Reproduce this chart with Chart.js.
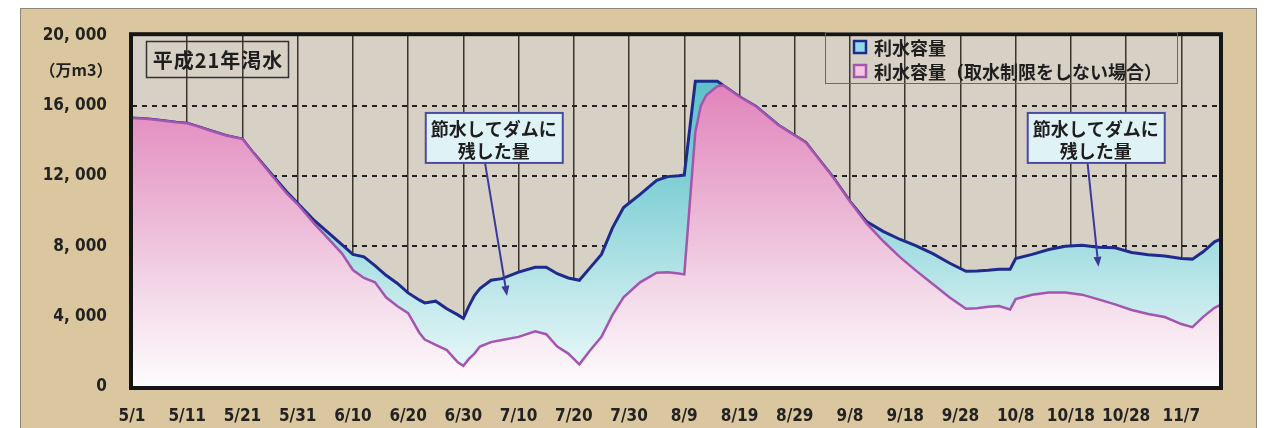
<!DOCTYPE html>
<html>
<head>
<meta charset="utf-8">
<script src="https://cdn.jsdelivr.net/npm/chart.js@4"></script>
<style>
  html, body { margin: 0; padding: 0; background: #fff; }
  #wrap { width: 1281px; height: 428px; }
</style>
</head>
<body>
<div id="wrap"><canvas id="myChart"></canvas></div>
<script>
// days counted from 5/1 (2009)
const days = [0, 3, 5, 8, 10, 12, 14, 17, 20, 22, 25, 28, 30, 33, 36, 38, 40, 42, 44, 46, 48, 50, 52, 53, 55, 57, 59, 60, 61, 62, 63, 65, 67, 70, 73, 75, 77, 79, 81, 83, 85, 87, 89, 92, 95, 97, 99, 100, 102, 103, 104, 106, 107, 110, 113, 117, 120, 122, 124, 127, 130, 133, 136, 139, 142, 145, 148, 151, 153, 155, 157, 159, 160, 163, 166, 169, 172, 175, 178, 181, 184, 187, 190, 192, 194, 196, 197];

// 利水容量 (万m3)
const storage = [15300, 15230, 15170, 15050, 14990, 14800, 14600, 14300, 14100, 13300, 12200, 11100, 10450, 9470, 8650, 8100, 7540, 7400, 6900, 6350, 5900, 5350, 4950, 4780, 4880, 4450, 4100, 3900, 4600, 5200, 5600, 6070, 6160, 6530, 6810, 6810, 6440, 6200, 6070, 6800, 7540, 9050, 10200, 10950, 11750, 11960, 12010, 12050, 17380, 17380, 17380, 17380, 17150, 16500, 15950, 14900, 14300, 13900, 13100, 11900, 10550, 9400, 8850, 8400, 8020, 7580, 7050, 6580, 6600, 6640, 6700, 6700, 7300, 7540, 7820, 8000, 8060, 7950, 7910, 7650, 7520, 7450, 7310, 7270, 7700, 8250, 8400];

// 利水容量（取水制限をしない場合）
const storageNoLimit = [15300, 15230, 15170, 15050, 14990, 14800, 14600, 14300, 14100, 13300, 12150, 11000, 10390, 9290, 8280, 7600, 6650, 6200, 5950, 5100, 4600, 4200, 3100, 2700, 2400, 2100, 1400, 1200, 1600, 1900, 2300, 2550, 2670, 2850, 3170, 3000, 2300, 1900, 1290, 2100, 2850, 4100, 5100, 5950, 6500, 6530, 6450, 6400, 14500, 16000, 16600, 17100, 17150, 16500, 15950, 14900, 14300, 13900, 13100, 11900, 10550, 9300, 8300, 7400, 6600, 5850, 5100, 4450, 4480, 4560, 4600, 4410, 5000, 5240, 5370, 5370, 5250, 4980, 4700, 4380, 4150, 3980, 3580, 3400, 4000, 4500, 4650];

const xStep = 10;       // tick label every 10 days
const yMax = 20000;
const yStep = 4000;

const numFont = "'Liberation Sans Narrow', 'DejaVu Sans Condensed', 'Noto Sans CJK JP', sans-serif";
const jpFont = "'Noto Sans CJK JP', sans-serif";

function dayLabel(v) {
  const d = new Date(2009, 4, 1 + v);
  return (d.getMonth() + 1) + '/' + d.getDate();
}

function yLabel(v) {
  if (v === 0) return '0';
  return Math.floor(v / 1000) + ', ' + String(v % 1000).padStart(3, '0');
}

// call-out boxes, placed in data units
const notes = [
  { lines: ['節水してダムに', '残した量'], day: 65.5, value: 14160, tailDay: 63.9, tailValue: 12780, tipDay: 67.9, tipValue: 5180 },
  { lines: ['節水してダムに', '残した量'], day: 174.5, value: 14160, tailDay: 173, tailValue: 12780, tipDay: 175, tipValue: 6830 }
];

function cyanFill(context) {
  const { ctx, chartArea } = context.chart;
  if (!chartArea) return null;
  const g = ctx.createLinearGradient(0, chartArea.top, 0, chartArea.bottom);
  g.addColorStop(0, '#4bbac3');
  g.addColorStop(0.45, '#86d2d7');
  g.addColorStop(0.75, '#c3e9ec');
  g.addColorStop(1, '#f0fafa');
  return g;
}

function pinkFill(context) {
  const { ctx, chartArea } = context.chart;
  if (!chartArea) return null;
  const g = ctx.createLinearGradient(0, chartArea.top, 0, chartArea.bottom);
  g.addColorStop(0, '#dc6fb0');
  g.addColorStop(0.2, '#e38cc0');
  g.addColorStop(0.5, '#ebb6d5');
  g.addColorStop(0.75, '#f4dcea');
  g.addColorStop(1, '#fdfcfd');
  return g;
}

const decor = {
  id: 'decor',
  beforeDraw(chart) {
    const { ctx, chartArea: a } = chart;
    ctx.save();
    ctx.fillStyle = '#ffffff';
    ctx.fillRect(0, 0, chart.width, chart.height);
    ctx.fillStyle = '#dac69f';
    ctx.fillRect(20, 8, 1237, chart.height);
    ctx.strokeStyle = '#8f8576';
    ctx.lineWidth = 1;
    ctx.strokeRect(20.5, 8.5, 1236, chart.height + 10);
    ctx.fillStyle = '#d7d0c4';
    ctx.fillRect(a.left, a.top, a.right - a.left, a.bottom - a.top);
    ctx.restore();
  },
  afterDraw(chart) {
    const { ctx, chartArea: a, scales } = chart;
    const x = scales.x, y = scales.y;
    ctx.save();

    // plot frame
    ctx.strokeStyle = '#151515';
    ctx.lineWidth = 4;
    ctx.strokeRect(a.left - 1, a.top - 1, a.right - a.left + 2, a.bottom - a.top + 2);

    // unit label
    ctx.fillStyle = '#222';
    ctx.font = "bold 16px " + jpFont;
    ctx.textAlign = 'center';
    ctx.textBaseline = 'middle';
    ctx.fillText('（万m3）', 76, y.getPixelForValue(18000));

    // title box
    ctx.strokeStyle = '#333';
    ctx.lineWidth = 1.5;
    ctx.strokeRect(146.5, 41.5, 142, 36);
    ctx.font = "bold 20px " + jpFont;
    ctx.letterSpacing = '1px';
    ctx.fillStyle = '#1e1e1e';
    ctx.fillText('平成21年渇水', 218, 60);
    ctx.letterSpacing = '0px';

    // legend
    ctx.strokeStyle = '#6d675f';
    ctx.lineWidth = 1;
    ctx.strokeRect(825.5, 32.5, 352, 51);
    const sw = [
      { fill: '#8fdbe6', edge: '#1f2b8c' },
      { fill: '#f4c6e6', edge: '#a455ad' }
    ];
    chart.data.datasets.forEach((ds, i) => {
      const cy = 47 + i * 24;
      ctx.fillStyle = sw[i].fill;
      ctx.fillRect(854, cy - 6, 12, 12);
      ctx.strokeStyle = sw[i].edge;
      ctx.lineWidth = 2.5;
      ctx.strokeRect(854, cy - 6, 12, 12);
      ctx.fillStyle = '#1e1e1e';
      ctx.font = "bold 18px " + jpFont;
      ctx.textAlign = 'left';
      ctx.fillText(ds.label, 874, cy + 1);
    });

    // call-outs
    notes.forEach(n => {
      const cx = x.getPixelForValue(n.day), cy = y.getPixelForValue(n.value);
      const tx = x.getPixelForValue(n.tailDay), ty = y.getPixelForValue(n.tailValue);
      const px = x.getPixelForValue(n.tipDay), py = y.getPixelForValue(n.tipValue);
      ctx.strokeStyle = '#3b3a9c';
      ctx.fillStyle = '#3b3a9c';
      ctx.lineWidth = 2;
      const ang = Math.atan2(py - ty, px - tx);
      const hx = px - 10 * Math.cos(ang), hy = py - 10 * Math.sin(ang);
      ctx.beginPath();
      ctx.moveTo(tx, ty);
      ctx.lineTo(hx, hy);
      ctx.stroke();
      ctx.beginPath();
      ctx.moveTo(px, py);
      ctx.lineTo(hx + 4 * Math.sin(ang), hy - 4 * Math.cos(ang));
      ctx.lineTo(hx - 4 * Math.sin(ang), hy + 4 * Math.cos(ang));
      ctx.closePath();
      ctx.fill();

      ctx.fillStyle = '#dff3f6';
      ctx.fillRect(cx - 68, cy - 25, 137, 50);
      ctx.strokeStyle = '#4a4a9e';
      ctx.lineWidth = 2;
      ctx.strokeRect(cx - 68, cy - 25, 137, 50);
      ctx.fillStyle = '#1e1e1e';
      ctx.font = "bold 18px " + jpFont;
      ctx.textAlign = 'center';
      ctx.fillText(n.lines[0], cx, cy - 9);
      ctx.fillText(n.lines[1], cx, cy + 13);
    });
    ctx.restore();
  }
};

new Chart(document.getElementById('myChart'), {
  type: 'line',
  data: {
    datasets: [{
      label: '利水容量',
      data: days.map((d, i) => ({ x: d, y: storage[i] })),
      borderColor: '#1f2b8c',
      borderWidth: 3,
      backgroundColor: cyanFill,
      fill: 'origin',
      pointRadius: 0,
      tension: 0,
      order: 1
    }, {
      label: '利水容量（取水制限をしない場合）',
      data: days.map((d, i) => ({ x: d, y: storageNoLimit[i] })),
      borderColor: '#a455ad',
      borderWidth: 2.5,
      backgroundColor: pinkFill,
      fill: 'origin',
      pointRadius: 0,
      tension: 0,
      order: 0
    }]
  },
  options: {
    responsive: true,
    maintainAspectRatio: false,
    animation: false,
    devicePixelRatio: 1,
    layout: { padding: { top: 24, right: 61, left: 0, bottom: 0 } },
    plugins: { legend: { display: false }, tooltip: { enabled: false } },
    scales: {
      x: {
        type: 'linear',
        min: 0,
        max: days[days.length - 1],
        afterFit: s => { s.height = 41; },
        afterBuildTicks: s => {
          const t = [];
          for (let v = 0; v <= s.max; v += xStep) t.push({ value: v });
          s.ticks = t;
        },
        border: { display: false },
        grid: {
          drawTicks: false,
          lineWidth: 1.5,
          color: c => (c.tick && c.tick.value > 0) ? '#3b352e' : 'rgba(0,0,0,0)'
        },
        ticks: {
          autoSkip: false,
          maxRotation: 0,
          padding: 19,
          color: '#222',
          font: { family: numFont, size: 17, weight: 'bold' },
          callback: v => dayLabel(v)
        }
      },
      y: {
        min: 0,
        max: yMax,
        afterFit: s => { s.width = 132; },
        border: { display: false, dash: [5, 5] },
        grid: {
          drawTicks: false,
          lineWidth: 2,
          color: c => (c.tick && c.tick.value > 0 && c.tick.value < yMax) ? '#222' : 'rgba(0,0,0,0)'
        },
        ticks: {
          stepSize: yStep,
          padding: 25,
          color: '#222',
          font: { family: numFont, size: 17, weight: 'bold' },
          callback: v => yLabel(v)
        }
      }
    }
  },
  plugins: [decor]
});
</script>
</body>
</html>
